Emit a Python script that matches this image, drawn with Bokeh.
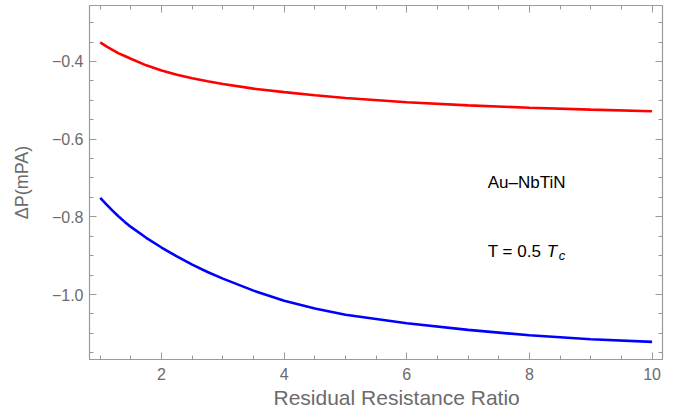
from bokeh.plotting import figure
from bokeh.models import LinearAxis, FixedTicker, CustomJSTickFormatter, Range1d, Title
from bokeh.core.properties import value
from bokeh.embed import file_html
from bokeh.resources import INLINE
import numpy as np

# data
rrr = [1.0, 1.1, 1.2, 1.3, 1.4, 1.5, 1.75, 2.0, 2.25, 2.5, 2.75, 3.0, 3.5,
       4.0, 4.5, 5.0, 6.0, 7.0, 8.0, 9.0, 10.0]
dp_red = [-0.351, -0.361, -0.370, -0.379, -0.386, -0.393, -0.410, -0.423,
          -0.434, -0.443, -0.451, -0.458, -0.470, -0.479, -0.487, -0.494,
          -0.505, -0.513, -0.519, -0.524, -0.528]
dp_blue = [-0.751, -0.768, -0.784, -0.799, -0.813, -0.826, -0.854, -0.879,
           -0.902, -0.923, -0.942, -0.959, -0.990, -1.016, -1.036, -1.052,
           -1.074, -1.091, -1.105, -1.115, -1.122]

x_ticks = [2, 4, 6, 8, 10]
x_tick_labels = ["2", "4", "6", "8", "10"]
y_ticks = [-1.0, -0.8, -0.6, -0.4]
y_tick_labels = ["\u22121.0", "\u22120.8", "\u22120.6", "\u22120.4"]

x_label = "Residual Resistance Ratio"
y_label = "\u0394P(mPA)"
note1 = "Au\u2013NbTiN"
note2 = "T = 0.5 "

FONT = "Liberation Sans"
FRAME = "#9a9a9a"
LABEL = "#6b6b6b"

p = figure(width=667, height=416, output_backend="svg", toolbar_location=None,
           x_range=Range1d(0.825, 10.17), y_range=Range1d(-1.1673, -0.2559),
           min_border_left=89, min_border_right=5, min_border_top=5,
           min_border_bottom=57)
p.background_fill_color = "white"
p.border_fill_color = "white"
p.outline_line_color = FRAME
p.xgrid.visible = False
p.ygrid.visible = False

p.line(rrr, dp_red, line_color="#ff0000", line_width=2.6)
p.line(rrr, dp_blue, line_color="#0000ff", line_width=2.6)

x_minor = list(np.arange(0.5, 10.6, 0.5))
y_minor = list(np.arange(-1.15, -0.25, 0.05))
xt = FixedTicker(ticks=x_ticks, minor_ticks=x_minor)
yt = FixedTicker(ticks=y_ticks, minor_ticks=y_minor)
JS = """
const i = tvals.findIndex(t => Math.abs(t - tick) < 1e-9);
return i >= 0 ? tlabels[i] : '';
"""
xf = CustomJSTickFormatter(args=dict(tvals=x_ticks, tlabels=x_tick_labels), code=JS)
yf = CustomJSTickFormatter(args=dict(tvals=y_ticks, tlabels=y_tick_labels), code=JS)
blank = CustomJSTickFormatter(code="return '';")

def style(ax, show_labels):
    ax.axis_line_color = FRAME
    ax.axis_line_width = 1.2
    ax.major_tick_line_color = FRAME
    ax.minor_tick_line_color = FRAME
    ax.major_tick_in = 7
    ax.major_tick_out = 0
    ax.minor_tick_in = 4
    ax.minor_tick_out = 0
    ax.major_label_text_font = FONT
    ax.major_label_text_color = LABEL
    ax.major_label_text_font_size = "16px"
    ax.axis_label_text_font = FONT
    ax.axis_label_text_color = LABEL
    ax.axis_label_text_font_style = "normal"
    if not show_labels:
        ax.major_label_standoff = 0

bx = p.xaxis[0]
bx.ticker = xt
bx.formatter = xf
style(bx, True)
bx.major_label_standoff = 8

ly = p.yaxis[0]
ly.ticker = yt
ly.formatter = yf
style(ly, True)
ly.major_label_standoff = 6
ly.axis_label = y_label
ly.axis_label_text_font_size = "18px"
ly.axis_label_standoff = 17

tx = LinearAxis(ticker=xt, formatter=blank)
style(tx, False)
p.add_layout(tx, "above")
ry = LinearAxis(ticker=yt, formatter=blank)
style(ry, False)
p.add_layout(ry, "right")

# x-axis title, placed where the reference has it (a little right of centre)
p.add_layout(Title(text=x_label, text_font=FONT, text_font_size="21px",
                   text_font_style="normal", text_color=LABEL, align="left",
                   offset=184, standoff=3), "below")

p.text(x=[7.32], y=[-0.711], text=[note1], text_font=value(FONT),
       text_font_size="17px", text_color="black", text_baseline="alphabetic")
p.text(x=[7.32], y=[-0.889], text=[note2], text_font=value(FONT),
       text_font_size="17px", text_color="black", text_baseline="alphabetic")
p.text(x=[7.32], y=[-0.889], text=["T"], text_font=value(FONT), x_offset=59,
       text_font_size="17px", text_font_style="italic", text_color="black",
       text_baseline="alphabetic")
p.text(x=[7.32], y=[-0.889], text=["c"], text_font=value(FONT), x_offset=71,
       y_offset=4, text_font_size="13px", text_font_style="italic",
       text_color="black", text_baseline="alphabetic")

open("out.html", "w").write(file_html(p, INLINE))
